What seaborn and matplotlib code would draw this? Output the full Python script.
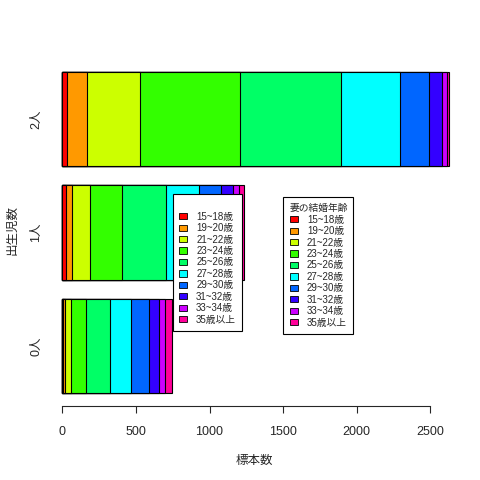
import numpy as np
import pandas as pd
import matplotlib
matplotlib.use("Agg")
import matplotlib.pyplot as plt
from matplotlib.patches import Patch
import seaborn as sns

# data
groups = ["2人", "1人", "0人"]
ages = ["15~18歳", "19~20歳", "21~22歳", "23~24歳", "25~26歳",
        "27~28歳", "29~30歳", "31~32歳", "33~34歳", "35歳以上"]
n_2 = [30, 136, 364, 679, 686, 401, 197, 88, 32, 16]
n_1 = [23, 45, 122, 218, 299, 224, 149, 82, 40, 34]
n_0 = [3, 17, 37, 102, 162, 149, 122, 62, 42, 46]
x_ticks = [0, 500, 1000, 1500, 2000, 2500]

# R rainbow(10)
colors = ["#FF0000", "#FF9900", "#CCFF00", "#33FF00", "#00FF66",
          "#00FFFF", "#0066FF", "#3300FF", "#CC00FF", "#FF0099"]

sns.set_style("white")
plt.rcParams['font.family'] = ['Liberation Sans', 'Noto Sans CJK JP', 'DejaVu Sans']

rows = []
for g, vals in zip(groups, [n_2, n_1, n_0]):
    cum = np.cumsum(vals)
    for a, v, c in zip(ages, vals, cum):
        rows.append({"group": g, "age": a, "n": v, "cum": c})
df = pd.DataFrame(rows)

fig = plt.figure(figsize=(4.8, 4.8), dpi=100)
ax = fig.add_axes([42.8 / 480, 1 - 406.2 / 480, 422.2 / 480, 347.4 / 480])

# stacked bars: draw cumulative totals from the outermost segment inwards
for a, c in reversed(list(zip(ages, colors))):
    sub = df[df["age"] == a]
    sns.barplot(data=sub, x="cum", y="group", order=groups, orient="h",
                color=c, saturation=1, width=1 / 1.2, edgecolor="black",
                linewidth=0.8, errorbar=None, ax=ax)

ax.set_xlim(-132.5, 2735.5)
ax.set_ylim(2.53, -0.53)
for s in ["top", "right", "left"]:
    ax.spines[s].set_visible(False)
ax.spines["bottom"].set_bounds(0, 2500)
ax.spines["bottom"].set_linewidth(0.8)
ax.set_xticks(x_ticks)
ax.set_xticklabels([str(t) for t in x_ticks])
ax.tick_params(axis="x", length=5, width=0.8, direction="out", labelsize=9, pad=9, bottom=True)
ax.tick_params(axis="y", length=0, labelsize=9, pad=0.5)
for lab in ax.get_yticklabels():
    lab.set_rotation(90)
    lab.set_va("center")

ax.set_xlabel("標本数", fontsize=9, va="center")
ax.xaxis.set_label_coords(0.5, -0.158)
ax.set_ylabel("出生児数", fontsize=9, va="center")
ax.yaxis.set_label_coords(-0.073, 0.507)

handles = [Patch(facecolor=c, edgecolor="black", linewidth=0.6) for c in colors]
leg_kw = dict(fontsize=7, title_fontsize=7, loc="upper left", frameon=True,
              fancybox=False, framealpha=1, edgecolor="black",
              handlelength=0.85, handleheight=0.6, handletextpad=0.9,
              labelspacing=0.15, borderpad=0.6, borderaxespad=0)
leg1 = fig.legend(handles, ages, title=" ", bbox_to_anchor=(173.3 / 480, 1 - 194.3 / 480), **leg_kw)
leg1.get_frame().set_linewidth(0.8)
leg2 = fig.legend(handles, ages, title="妻の結婚年齢", bbox_to_anchor=(283.3 / 480, 1 - 197.3 / 480), **leg_kw)
leg2.get_frame().set_linewidth(0.8)

fig.savefig("out.png", dpi=100)
